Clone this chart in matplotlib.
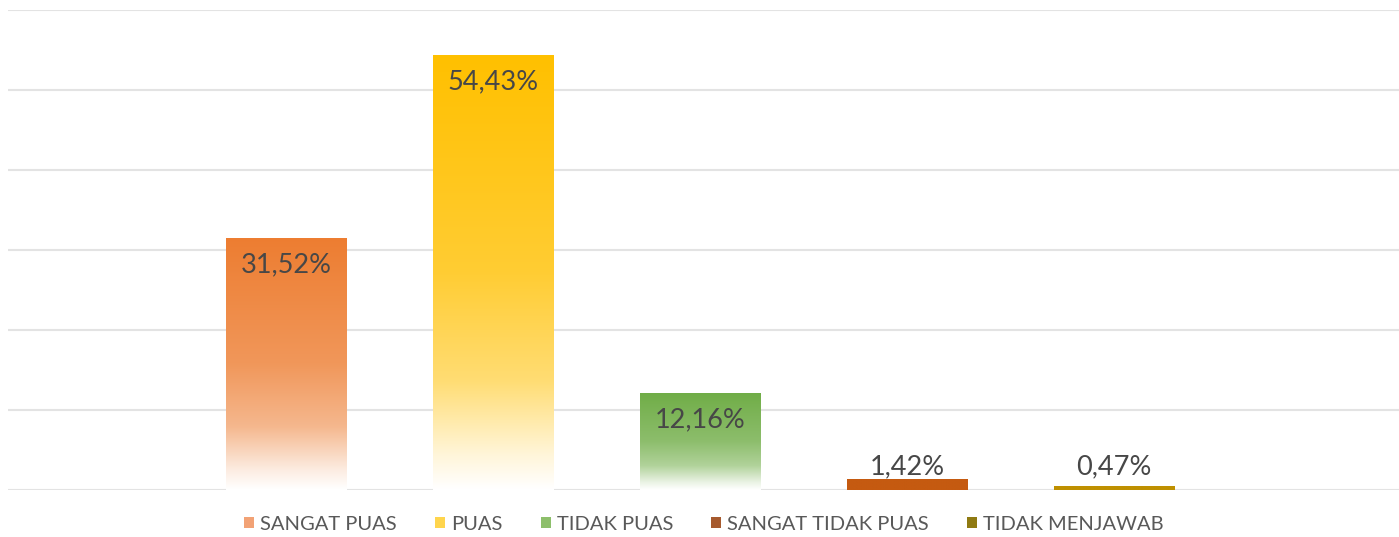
import numpy as np
import matplotlib
matplotlib.use("Agg")
import matplotlib.pyplot as plt
from matplotlib.colors import to_rgb
from matplotlib.patches import Patch

kategori = ["SANGAT PUAS", "PUAS", "TIDAK PUAS", "SANGAT TIDAK PUAS", "TIDAK MENJAWAB"]
nilai = [31.52, 54.43, 12.16, 1.42, 0.47]
label_teks = ["31,52%", "54,43%", "12,16%", "1,42%", "0,47%"]
warna = ["#ED7D31", "#FFC000", "#70AD47", "#C55A11", "#BF9000"]
warna_legend = ["#F2A275", "#FFD54D", "#8DBF6B", "#A65A2E", "#8F7A12"]

plt.rcParams['font.family'] = ['Lato', 'DejaVu Sans']

fig = plt.figure(figsize=(13.99, 5.37), dpi=100)
ax = fig.add_axes([8/1399, 47/537, 1391/1399, 480/537])

x = np.arange(len(kategori))
bars = ax.bar(x, nilai, width=0.58, color="none", edgecolor="none", zorder=2)

# gradient: solid on top, fading to white at the bottom
t_pts = [0.0, 0.08, 0.25, 0.5, 1.0]
a_pts = [0.0, 0.15, 0.55, 0.8, 1.0]
for i, b in enumerate(bars):
    base = np.array(to_rgb(warna[i]))
    if nilai[i] < 3:
        a = np.ones(200)
    else:
        a = np.interp(np.linspace(0, 1, 200), t_pts, a_pts)
    img = 1 - a[:, None] * (1 - base[None, :])
    img = img[:, None, :]
    xx0 = b.get_x()
    im = ax.imshow(img, extent=[xx0, xx0 + b.get_width(), 0, b.get_height()],
                   origin="lower", aspect="auto", zorder=2, interpolation="bilinear")
    im.set_clip_path(b)

for i, v in enumerate(nilai):
    y = max(v - 3.4, 2.9)
    ax.text(x[i], y, label_teks[i], ha="center", va="center", fontsize=19.5,
            color="#474747", zorder=3)

ax.set_xlim(-1.343, 5.377)
ax.set_ylim(0, 60)
ax.set_yticks(np.arange(0, 61, 10))
ax.grid(axis="y", color="#E3E3E3", linewidth=1.5, zorder=0)
ax.set_axisbelow(True)
for s in ax.spines.values():
    s.set_visible(False)
ax.tick_params(left=False, bottom=False, labelleft=False, labelbottom=False)

handles = [Patch(facecolor=c, edgecolor="none") for c in warna_legend]
leg = fig.legend(handles, kategori, loc="center", bbox_to_anchor=(704/1399, 1 - 524/537),
                 ncol=5, frameon=False, fontsize=14.5, handlelength=0.5, handleheight=0.5,
                 handletextpad=0.3, columnspacing=1.9)
for t in leg.get_texts():
    t.set_color("#595959")

fig.savefig("out.png", dpi=100)
